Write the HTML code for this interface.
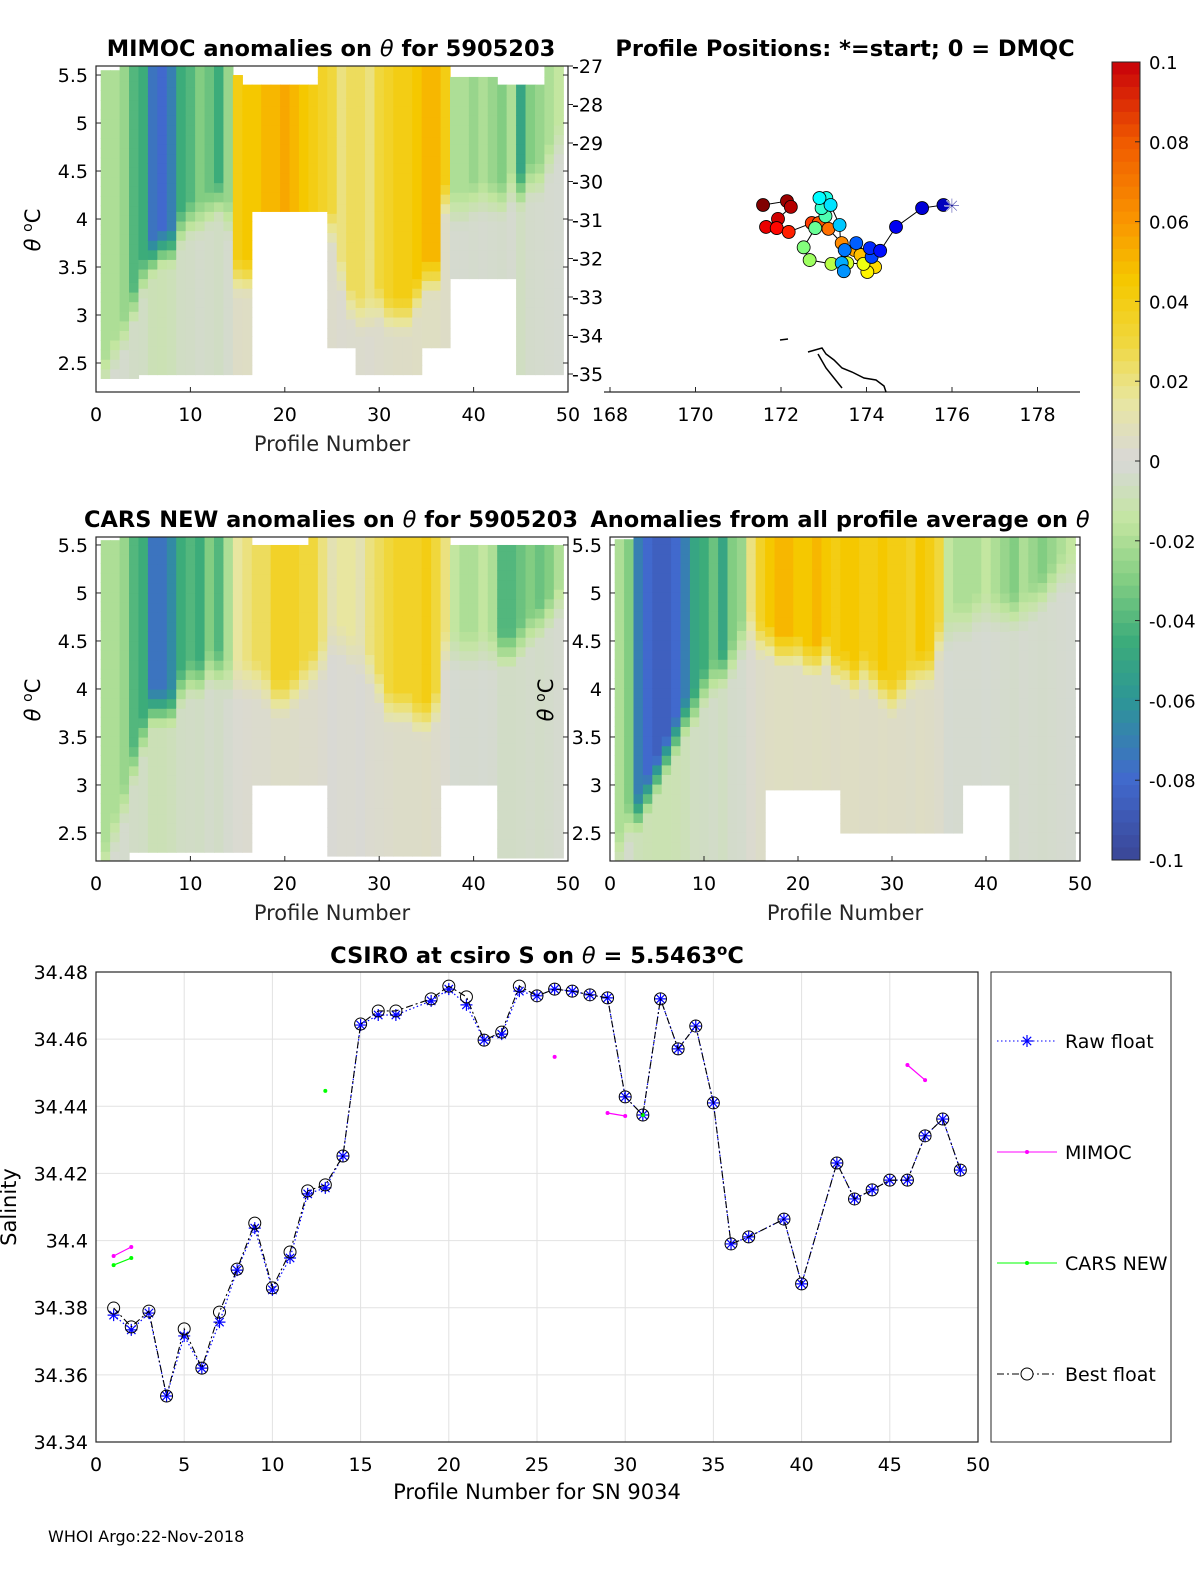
<!DOCTYPE html>
<html><head><meta charset="utf-8"><style>
body{margin:0;background:#fff;width:1200px;height:1575px;overflow:hidden}
svg text{font-family:"DejaVu Sans","Liberation Sans",sans-serif}
</style></head><body>
<svg id="fig" width="1200" height="1575" viewBox="0 0 1200 1575" xmlns="http://www.w3.org/2000/svg">
<rect width="1200" height="1575" fill="#fff"/>
<text x="331" y="56" font-size="22.5" font-weight="bold" text-anchor="middle">MIMOC anomalies on <tspan font-style="italic" font-weight="normal">θ</tspan>  for 5905203</text>
<text x="845" y="56" font-size="22.5" font-weight="bold" text-anchor="middle">Profile Positions: *=start; 0 = DMQC</text>
<text x="331" y="527" font-size="22.5" font-weight="bold" text-anchor="middle">CARS NEW anomalies on <tspan font-style="italic" font-weight="normal">θ</tspan> for 5905203</text>
<text x="840" y="527" font-size="22.5" font-weight="bold" text-anchor="middle">Anomalies from all profile average on <tspan font-style="italic" font-weight="normal">θ</tspan></text>
<text x="537" y="963" font-size="22.5" font-weight="bold" text-anchor="middle">CSIRO at csiro S on <tspan font-style="italic" font-weight="normal">θ</tspan> = 5.5463<tspan dy="-8" font-size="15">o</tspan><tspan dy="8">C</tspan></text>
<text x="48" y="1542" font-size="16">WHOI Argo:22-Nov-2018</text>
<g id="g1"></g>
<g id="g2"></g>
<g id="g3"></g>
<g id="gmap"></g>
<g id="gcb"></g>
<g id="gsal"></g>
</svg>
<script>
const m_top=[-0.02,-0.02,-0.025,-0.04,-0.045,-0.075,-0.08,-0.07,-0.045,-0.04,-0.03,-0.035,-0.045,-0.025,0.04,0.045,0.045,0.05,0.05,0.055,0.05,0.045,0.04,0.035,0.03,0.02,0.025,0.025,0.02,0.03,0.035,0.04,0.04,0.045,0.05,0.05,0.04,-0.02,-0.02,-0.025,-0.02,-0.025,-0.03,-0.02,-0.05,-0.03,-0.025,-0.02,-0.015];
const m_trans=[2.6,2.8,3.0,3.3,3.6,3.8,3.9,3.9,4.1,4.2,4.2,4.3,4.4,4.2,3.6,3.6,4.1,4.1,4.1,4.1,4.1,4.1,4.1,4.1,4.1,3.6,3.3,3.2,3.2,3.3,3.2,3.2,3.2,3.4,3.6,3.6,4.4,4.3,4.3,4.4,4.4,4.4,4.4,4.5,4.5,4.6,4.6,4.8,5.0];
const m_bot=[2.34,2.34,2.34,2.34,2.38,2.38,2.38,2.38,2.38,2.38,2.38,2.38,2.38,2.38,2.38,2.38,4.08,4.08,4.08,4.08,4.08,4.08,4.08,4.08,2.66,2.66,2.66,2.38,2.38,2.38,2.38,2.38,2.38,2.38,2.66,2.66,2.66,3.38,3.38,3.38,3.38,3.38,3.38,3.38,2.38,2.38,2.38,2.38,2.38];
const m_topT=[5.55,5.55,5.6,5.6,5.6,5.6,5.6,5.6,5.6,5.6,5.6,5.6,5.6,5.6,5.5,5.4,5.4,5.4,5.4,5.4,5.4,5.4,5.4,5.6,5.6,5.6,5.6,5.6,5.6,5.6,5.6,5.6,5.6,5.6,5.6,5.6,5.6,5.48,5.48,5.48,5.48,5.48,5.4,5.4,5.4,5.4,5.4,5.6,5.6];
const c_top=[-0.02,-0.02,-0.025,-0.04,-0.045,-0.075,-0.075,-0.065,-0.045,-0.04,-0.045,-0.03,-0.04,-0.02,0.015,0.02,0.025,0.025,0.035,0.035,0.035,0.03,0.03,0.02,0.01,0.015,0.015,0.01,0.02,0.025,0.03,0.035,0.035,0.035,0.04,0.03,0.02,-0.015,-0.02,-0.02,-0.015,-0.02,-0.04,-0.04,-0.035,-0.03,-0.035,-0.03,-0.02];
const c_trans=[2.4,2.7,3.0,3.4,3.7,4.0,4.0,4.0,4.2,4.3,4.3,4.4,4.4,4.3,4.3,4.3,4.3,4.2,4.1,4.1,4.2,4.3,4.4,4.5,4.7,4.7,4.6,4.5,4.4,4.2,4.0,4.0,4.0,3.9,3.9,4.0,4.6,4.6,4.6,4.6,4.6,4.6,4.6,4.6,4.7,4.8,4.9,5.0,5.1];
const c_bot=[2.21,2.21,2.21,2.3,2.3,2.3,2.3,2.3,2.3,2.3,2.3,2.3,2.3,2.3,2.3,2.3,3.0,3.0,3.0,3.0,3.0,3.0,3.0,3.0,2.26,2.26,2.26,2.26,2.26,2.26,2.26,2.26,2.26,2.26,2.26,2.26,3.0,3.0,3.0,3.0,3.0,3.0,2.24,2.24,2.24,2.24,2.24,2.24,2.24];
const c_topT=[5.55,5.55,5.6,5.6,5.6,5.6,5.6,5.6,5.6,5.6,5.6,5.6,5.6,5.6,5.6,5.6,5.5,5.5,5.5,5.5,5.5,5.5,5.6,5.6,5.6,5.6,5.6,5.6,5.6,5.6,5.6,5.6,5.6,5.6,5.6,5.6,5.6,5.5,5.5,5.5,5.5,5.5,5.5,5.5,5.5,5.5,5.5,5.5,5.5];
const a_top=[-0.02,-0.03,-0.07,-0.08,-0.085,-0.085,-0.08,-0.07,-0.05,-0.045,-0.035,-0.05,-0.03,-0.025,0.02,0.035,0.045,0.05,0.05,0.045,0.045,0.05,0.045,0.04,0.045,0.045,0.04,0.04,0.045,0.04,0.04,0.035,0.045,0.04,0.03,-0.015,-0.02,-0.02,-0.02,-0.015,-0.02,-0.025,-0.03,-0.02,-0.025,-0.03,-0.025,-0.02,-0.015];
const a_trans=[2.5,2.8,2.9,3.1,3.3,3.5,3.7,3.9,4.0,4.2,4.3,4.4,4.5,4.7,4.8,4.7,4.7,4.6,4.6,4.6,4.5,4.5,4.6,4.4,4.4,4.3,4.4,4.3,4.2,4.1,4.2,4.3,4.4,4.4,4.7,4.8,4.9,4.9,5.0,5.0,5.0,5.0,5.0,5.0,5.1,5.2,5.3,5.4,5.4];
const a_bot=[2.21,2.21,2.21,2.21,2.21,2.21,2.21,2.21,2.21,2.21,2.21,2.21,2.21,2.21,2.21,2.21,2.95,2.95,2.95,2.95,2.95,2.95,2.95,2.95,2.5,2.5,2.5,2.5,2.5,2.5,2.5,2.5,2.5,2.5,2.5,2.5,2.5,3.0,3.0,3.0,3.0,3.0,2.21,2.21,2.21,2.21,2.21,2.21,2.21];
const a_topT=[5.56,5.56,5.6,5.6,5.6,5.6,5.6,5.6,5.6,5.6,5.6,5.6,5.6,5.6,5.6,5.6,5.6,5.6,5.6,5.6,5.6,5.6,5.6,5.6,5.6,5.6,5.6,5.6,5.6,5.6,5.6,5.6,5.6,5.6,5.6,5.6,5.6,5.6,5.6,5.6,5.6,5.6,5.6,5.6,5.6,5.6,5.6,5.6,5.6];
const mapLon=[175.8,175.3,174.69,174.32,174.08,174.12,173.76,173.49,173.47,173.42,173.37,173.16,172.9,173.06,172.95,173.04,172.8,172.53,172.67,173.18,173.55,173.93,174.02,174.2,173.86,173.72,173.42,173.11,172.88,172.72,172.18,171.9,171.65,171.93,172.23,172.14,171.58];
const mapLat=[-30.61,-30.69,-31.18,-31.8,-31.73,-31.96,-31.6,-31.78,-32.33,-32.12,-31.13,-30.61,-30.43,-30.43,-30.69,-30.9,-31.21,-31.71,-32.04,-32.14,-32.12,-32.14,-32.35,-32.22,-31.91,-31.78,-31.6,-31.23,-31.08,-31.08,-31.31,-31.21,-31.18,-30.97,-30.66,-30.51,-30.61];
const profiles=[];for(let p=1;p<=49;p++)profiles.push(p);
const bestS=[34.3799,34.3743,34.3790,34.3537,34.3737,34.3620,34.3787,34.3915,34.4052,34.3859,34.3966,34.4148,34.4166,34.4252,34.4645,34.4684,34.4684,null,34.4720,34.4758,34.4726,34.4597,34.4621,34.4758,34.4729,34.4749,34.4743,34.4732,34.4723,34.4428,34.4374,34.4720,34.4571,34.4639,34.4410,34.3990,34.4011,null,34.4064,34.3871,null,34.4231,34.4124,34.4151,34.4180,34.4180,34.4312,34.4362,34.4210];
const rawS=[34.3778,34.3734,34.3784,34.3537,34.3716,34.3620,34.3757,34.3912,34.4037,34.3853,34.3948,34.4139,34.4157,34.4252,34.4642,34.4672,34.4672,null,34.4714,34.4749,34.4702,34.4597,34.4615,34.4743,34.4729,34.4749,34.4743,34.4732,34.4723,34.4428,34.4374,34.4720,34.4571,34.4639,34.4410,34.3990,34.4011,null,34.4064,34.3871,null,34.4231,34.4124,34.4151,34.4180,34.4180,34.4312,34.4362,34.4210];
const mimocS=[34.3954,34.3981,null,null,null,null,null,null,null,null,null,null,null,null,null,null,null,null,null,null,null,null,null,null,null,34.4547,null,null,34.4380,34.4371,null,null,null,null,null,null,null,null,null,null,null,null,null,null,null,34.4523,34.4478,null,null];
const carsS=[34.3927,34.3948,null,null,null,null,null,null,null,null,null,null,34.4446,null,null,null,null,null,null,null,null,null,null,null,null,null,null,null,null,null,34.4374,null,null,null,null,null,null,null,null,null,null,null,null,null,null,null,null,null,null];
const salXTicks=[0,5,10,15,20,25,30,35,40,45,50];
const salYTicks=[34.34,34.36,34.38,34.4,34.42,34.44,34.46,34.48];
const thetaTicks=[2.5,3,3.5,4,4.5,5,5.5];
const profTicks=[0,10,20,30,40,50];
const lonTicks=[168,170,172,174,176,178];
const latTicks=[-27,-28,-29,-30,-31,-32,-33,-34,-35];
const cbTicks=[0.1,0.08,0.06,0.04,0.02,0,-0.02,-0.04,-0.06,-0.08,-0.1];

const NS="http://www.w3.org/2000/svg";
function mk(parent,tag,attrs,txt){const e=document.createElementNS(NS,tag);for(const k in attrs)e.setAttribute(k,attrs[k]);if(txt!==undefined)e.textContent=txt;parent.appendChild(e);return e;}
const stops=[[-0.1,[58,70,150]],[-0.08,[65,105,205]],[-0.06,[45,150,150]],[-0.045,[60,172,122]],[-0.03,[130,205,130]],[-0.015,[195,230,160]],[0,[216,216,216]],[0.015,[232,230,160]],[0.03,[240,215,60]],[0.045,[245,200,0]],[0.06,[250,150,0]],[0.08,[240,90,0]],[0.1,[200,0,10]]];
function cmap(v){v=Math.max(-0.1,Math.min(0.1,v));for(let i=0;i<stops.length-1;i++){const a=stops[i],b=stops[i+1];if(v<=b[0]){const t=(v-a[0])/(b[0]-a[0]);const c=a[1].map((x,j)=>Math.round(x+(b[1][j]-x)*t));return `rgb(${c})`;}}return 'rgb(200,0,10)';}
function jet(t){const r=Math.max(0,Math.min(1,1.5-Math.abs(4*t-3))),g=Math.max(0,Math.min(1,1.5-Math.abs(4*t-2))),b=Math.max(0,Math.min(1,1.5-Math.abs(4*t-1)));return `rgb(${Math.round(r*255)},${Math.round(g*255)},${Math.round(b*255)})`;}

function heat(gid,X0,X1,Y0,Y1,tmin,tmax,top,trans,bot,topT,leftLabels,rightLabels,showXlabel){
  const g=document.getElementById(gid);
  const sx=p=>X0+(X1-X0)*p/50, sy=t=>Y1-(Y1-Y0)*(t-tmin)/(tmax-tmin);
  for(let i=0;i<top.length;i++){
    const p=i+1;
    for(let t=bot[i];t<topT[i]-1e-6;t+=0.1){
      const t2=Math.min(t+0.1,topT[i],tmax),tc=(t+t2)/2;
      let f=tc>=trans[i]?1:Math.max(0.12,1-(trans[i]-tc)/0.45);
      const v=top[i]*f;
      const r=mk(g,'rect',{x:sx(p-0.5),y:sy(t2),width:sx(p+0.5)-sx(p-0.5)+0.6,height:sy(Math.max(t,tmin))-sy(t2)+0.6,fill:cmap(v)});
      
      
    }
  }
  mk(g,'rect',{x:X0,y:Y0,width:X1-X0,height:Y1-Y0,fill:'none',stroke:'#262626','stroke-width':1.2});
  thetaTicks.forEach(t=>{const y=sy(t);mk(g,'line',{x1:X0,x2:X0+5,y1:y,y2:y,stroke:'#262626'});mk(g,'line',{x1:X1,x2:X1-5,y1:y,y2:y,stroke:'#262626'});
    if(leftLabels){const l=mk(g,'text',{x:X0-8,y:y+7,'font-size':19,'text-anchor':'end'},String(t));}});
  profTicks.forEach(p=>{const x=sx(p);mk(g,'line',{x1:x,x2:x,y1:Y1,y2:Y1-5,stroke:'#262626'});
    const l=mk(g,'text',{x:x,y:Y1+29,'font-size':19,'text-anchor':'middle'},String(p));});
  if(showXlabel){const l=mk(g,'text',{x:(X0+X1)/2,y:Y1+59,'font-size':21,'text-anchor':'middle',fill:'#262626'},'Profile Number');}
}
function ylab(x,y){const g=document.getElementById('fig');const t=mk(g,'text',{transform:`translate(${x},${y}) rotate(-90)`,'font-size':21,'text-anchor':'middle'});
 mk(t,'tspan',{'font-style':'italic'},'θ ');mk(t,'tspan',{dy:-8,'font-size':14},'o');mk(t,'tspan',{dy:8},'C');}
heat('g1',96,568,66,392,2.198,5.594,m_top,m_trans,m_bot,m_topT,true,false,true);
heat('g2',96,568,537,861,2.208,5.583,c_top,c_trans,c_bot,c_topT,true,false,true);
heat('g3',610,1080,537,861,2.208,5.583,a_top,a_trans,a_bot,a_topT,true,false,true);
ylab(40,230);ylab(40,700);ylab(553,700);

(function(){const g=document.getElementById('gmap');
 const sx=l=>610+(l-168)*42.75, sy=l=>66+(-27-l)*38.5;
 mk(g,'line',{x1:604,x2:1080,y1:392,y2:392,stroke:'#262626','stroke-width':1.2});
 lonTicks.forEach(l=>{const x=sx(l);mk(g,'line',{x1:x,x2:x,y1:392,y2:387,stroke:'#262626'});const t=mk(g,'text',{x:x,y:421,'font-size':19,'text-anchor':'middle'},String(l));});
 latTicks.forEach(l=>{const y=sy(l);mk(g,'line',{x1:568,x2:573,y1:y,y2:y,stroke:'#262626'});const t=mk(g,'text',{x:572,y:y+7,'font-size':19},String(l));});
 mk(g,'path',{d:'M808,352 L822,348 L826,354 L834,360 L842,368 L852,372 L864,378 L876,380 L884,386 L886,392 M818,354 L826,368 L834,378 L842,388 M780,340 L788,339',fill:'none',stroke:'#000','stroke-width':1.5});
 let d='';mapLon.forEach((l,i)=>{d+=(i?'L':'M')+sx(l)+','+sy(mapLat[i]);});
 d='M'+sx(176.0)+','+sy(-30.63)+'L'+d.slice(1);
 mk(g,'path',{d:d,fill:'none',stroke:'#000','stroke-width':1});
 const n=mapLon.length;
 for(let i=n-1;i>=0;i--){const c=mk(g,'circle',{cx:sx(mapLon[i]),cy:sy(mapLat[i]),r:6.5,fill:jet(0.06+0.94*i/(n-1)),stroke:'#000','stroke-width':0.8});}
 const s=mk(g,'text',{x:sx(176.0),y:sy(-30.63)+7,'font-size':20,'text-anchor':'middle',fill:'#00008f',stroke:'#fff','stroke-width':0.5},'✳');
})();

(function(){const g=document.getElementById('gcb');const y=v=>62+(0.1-v)/0.2*798;
 for(let k=0;k<64;k++){const v1=0.1-k*0.2/64,v2=v1-0.2/64;const r=mk(g,'rect',{x:1112,y:y(v1),width:28,height:y(v2)-y(v1)+0.5,fill:cmap((v1+v2)/2)});}
 mk(g,'rect',{x:1112,y:62,width:28,height:798,fill:'none',stroke:'#262626'});
 cbTicks.forEach(v=>{const yy=y(v);mk(g,'line',{x1:1135,x2:1140,y1:yy,y2:yy,stroke:'#262626'});const t=mk(g,'text',{x:1149,y:yy+7,'font-size':18},String(v));});
})();

(function(){const g=document.getElementById('gsal');const X0=96,X1=978,Y0=972,Y1=1442;
 const sx=p=>X0+(X1-X0)*p/50, sy=v=>Y1-(Y1-Y0)*(v-34.34)/0.14;
 salXTicks.forEach(p=>{const x=sx(p);mk(g,'line',{x1:x,x2:x,y1:Y0,y2:Y1,stroke:'#e2e2e2'});const t=mk(g,'text',{x:x,y:Y1+29,'font-size':19,'text-anchor':'middle'},String(p));});
 salYTicks.forEach(v=>{const y=sy(v);mk(g,'line',{x1:X0,x2:X1,y1:y,y2:y,stroke:'#e2e2e2'});const t=mk(g,'text',{x:X0-8,y:y+7,'font-size':19,'text-anchor':'end'},String(v));});
 mk(g,'rect',{x:X0,y:Y0,width:X1-X0,height:Y1-Y0,fill:'none',stroke:'#262626','stroke-width':1.2});
 let t=mk(g,'text',{x:537,y:1499,'font-size':21,'text-anchor':'middle'},'Profile Number for SN 9034');
 t=mk(g,'text',{transform:'translate(16,1207) rotate(-90)','font-size':21,'text-anchor':'middle'},'Salinity');
 function line(arr,stroke,dash,w){let d='',pen=false;arr.forEach((v,i)=>{if(v===null){return;}d+=(pen?'L':'M')+sx(profiles[i])+','+sy(v);pen=true;});return mk(g,'path',{d:d,fill:'none',stroke:stroke,'stroke-dasharray':dash,'stroke-width':w});}
 function segs(arr,stroke,name){let d='',pen=false;arr.forEach((v,i)=>{if(v===null){pen=false;return;}d+=(pen?'L':'M')+sx(profiles[i])+','+sy(v);pen=true;});mk(g,'path',{d:d,fill:'none',stroke:stroke,'stroke-width':1.2});
   arr.forEach((v,i)=>{if(v===null)return;const c=mk(g,'circle',{cx:sx(profiles[i]),cy:sy(v),r:2,fill:stroke});});}
 function star(x,y,r,c){const p=mk(g,'path',{d:`M${x-r},${y}H${x+r}M${x},${y-r}V${y+r}M${x-r*.7},${y-r*.7}L${x+r*.7},${y+r*.7}M${x-r*.7},${y+r*.7}L${x+r*.7},${y-r*.7}`,stroke:c,'stroke-width':1.2,fill:'none'});return p;}
 line(rawS,'#0000ff','1.5 2.5',1.2);
 rawS.forEach((v,i)=>{if(v===null)return;const s=star(sx(profiles[i]),sy(v),6,'#0000ff');});
 segs(mimocS,'#ff00ff','mimoc-point');
 segs(carsS,'#00ff00','cars-point');
 line(bestS,'#000','7 3 2 3',1.1);
 bestS.forEach((v,i)=>{if(v===null)return;const c=mk(g,'circle',{cx:sx(profiles[i]),cy:sy(v),r:6,fill:'none',stroke:'#000','stroke-width':1});});
 const L=mk(g,'g',{});
 mk(L,'rect',{x:991,y:972,width:180,height:470,fill:'#fff',stroke:'#262626'});
 const ys=[1041,1152,1263,1374],names=['Raw float','MIMOC','CARS NEW','Best float'];
 mk(L,'line',{x1:997,x2:1057,y1:ys[0],y2:ys[0],stroke:'#0000ff','stroke-dasharray':'1.5 2.5'});star(1027,ys[0],6,'#0000ff');
 mk(L,'line',{x1:997,x2:1057,y1:ys[1],y2:ys[1],stroke:'#ff00ff'});mk(L,'circle',{cx:1027,cy:ys[1],r:2,fill:'#ff00ff'});
 mk(L,'line',{x1:997,x2:1057,y1:ys[2],y2:ys[2],stroke:'#00ff00'});mk(L,'circle',{cx:1027,cy:ys[2],r:2,fill:'#00ff00'});
 mk(L,'line',{x1:997,x2:1057,y1:ys[3],y2:ys[3],stroke:'#000','stroke-dasharray':'7 3 2 3'});mk(L,'circle',{cx:1027,cy:ys[3],r:6,fill:'#fff',stroke:'#000'});
 names.forEach((n,i)=>{const e=mk(L,'text',{x:1065,y:ys[i]+7,'font-size':19},n);});
})();
</script>
</body></html>
